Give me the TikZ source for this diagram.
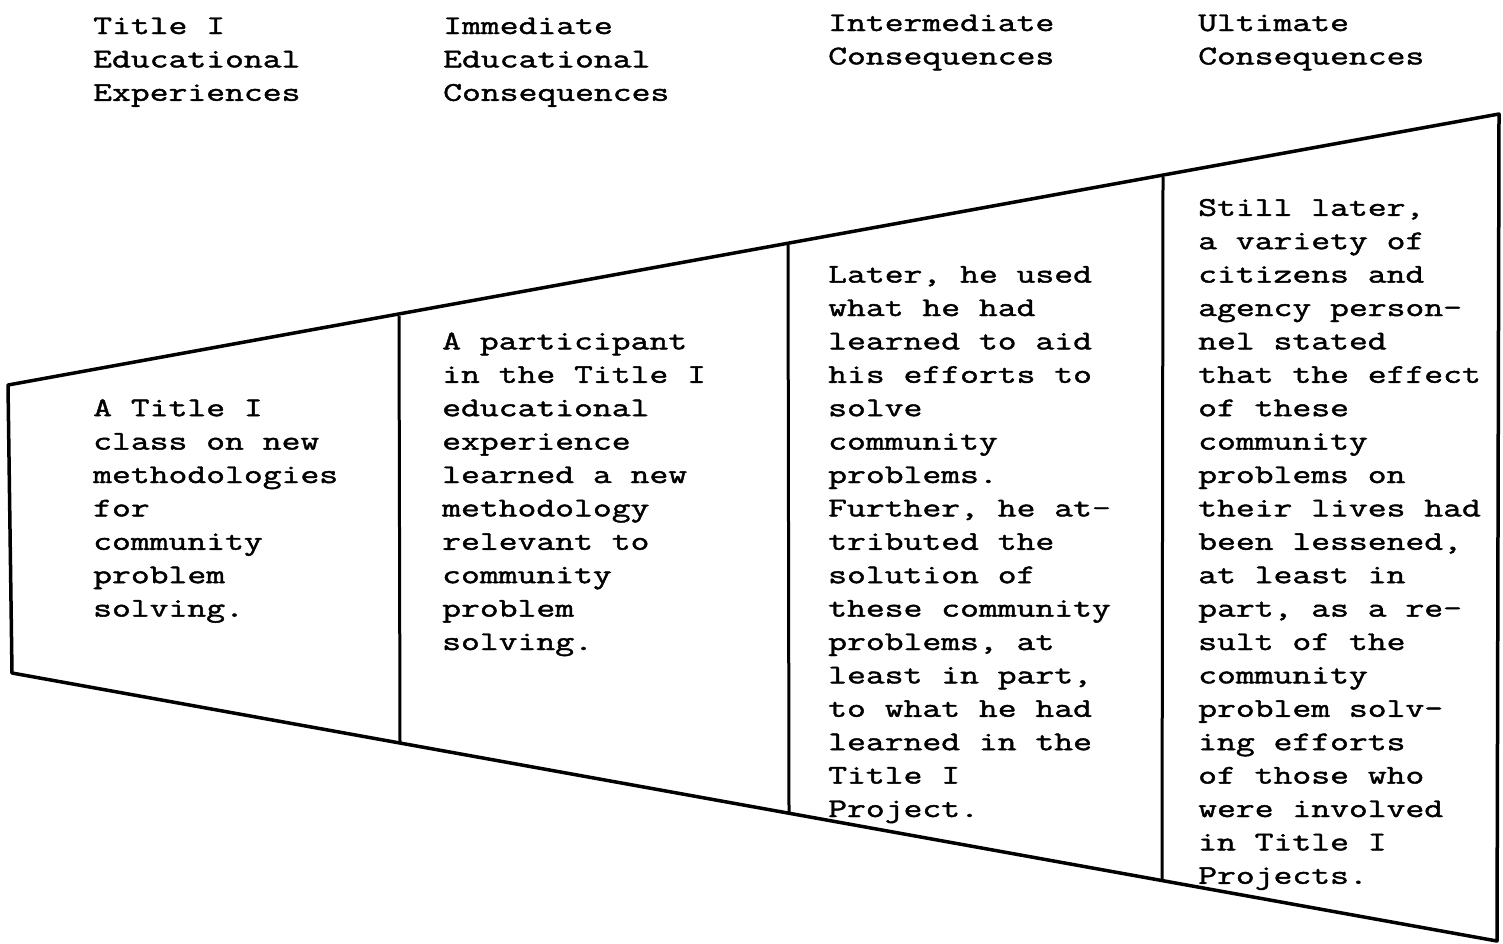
\documentclass[tikz,border=0pt]{standalone}
\usepackage{fontspec}
\newfontfamily\tw[FakeStretch=1.355,FakeBold=1.6]{Latin Modern Mono}
\begin{document}
\begin{tikzpicture}[x=1pt,y=-1pt,
  txt/.style={anchor=base west, inner sep=0pt, font=\tw\fontsize{27}{33.4}\selectfont},
  frame/.style={line width=3.5pt, line join=round, line cap=round},
  divider/.style={line width=3pt}]
\useasboundingbox (0,0) rectangle (1503,943);
% outline
\draw[frame] (8,385) -- (1499,114) -- (1497,941) -- (12,673) -- cycle;
\draw[divider] (399,316) -- (400,743);
\draw[divider] (788,245) -- (789,812);
\draw[divider] (1163,177) -- (1162,881);
% headers
\newcommand{\col}[1]{\parbox[t]{400pt}{\raggedright #1}}
\node[txt] (h1) at (93,34) {\col{Title I\\Educational\\Experiences}};
\node[txt] (h2) at (443,34) {\col{Immediate\\Educational\\Consequences}};
\node[txt] (h3) at (828,31) {\col{Intermediate\\Consequences}};
\node[txt] (h4) at (1198,31) {\col{Ultimate\\Consequences}};
% bodies
\node[txt] (b1) at (93,416.2) {\col{A Title I\\class on new\\methodologies\\for\\community\\problem\\solving.}};
\node[txt] (b2) at (442,349.4) {\col{A participant\\in the Title I\\educational\\experience\\learned a new\\methodology\\relevant to\\community\\problem\\solving.}};
\node[txt] (b3) at (828,282.6) {\col{Later, he used\\what he had\\learned to aid\\his efforts to\\solve\\community\\problems.\\Further, he at-\\tributed the\\solution of\\these community\\problems, at\\least in part,\\to what he had\\learned in the\\Title I\\Project.}};
\node[txt] (b4) at (1198,215.8) {\col{Still later,\\a variety of\\citizens and\\agency person-\\nel stated\\that the effect\\of these\\community\\problems on\\their lives had\\been lessened,\\at least in\\part, as a re-\\sult of the\\community\\problem solv-\\ing efforts\\of those who\\were involved\\in Title I\\Projects.}};
\end{tikzpicture}
\end{document}
